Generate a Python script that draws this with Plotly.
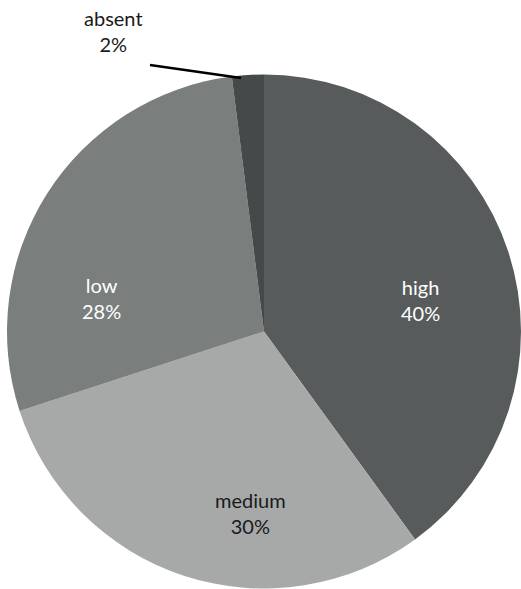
import plotly.graph_objects as go

# Share of each level (percent)
levels = ["high", "medium", "low", "absent"]
shares = [40, 30, 28, 2]
slice_colors = ["#575b5c", "#a7a9a9", "#7a7e7d", "#454949"]
label_colors = ["white", "#1a1a1a", "white", "#1a1a1a"]
# Label anchor points (pixels from top-left of the figure)
label_px = [(420, 300), (250, 513), (101, 298), (113, 31)]

W, H = 521, 589
FONT = "Lato"
FONT_SIZE = 20

fig = go.Figure(
    go.Pie(
        labels=levels,
        values=shares,
        sort=False,
        direction="clockwise",
        rotation=0,
        marker=dict(colors=slice_colors, line=dict(width=0)),
        textinfo="none",
        hoverinfo="label+percent",
        showlegend=False,
        domain=dict(x=[7 / W, 1], y=[0, 1 - 74 / H]),
    )
)

# Slice labels: name on the first line, share on the second
for name, share, color, (px, py) in zip(levels, shares, label_colors, label_px):
    fig.add_annotation(
        x=px / W, y=1 - py / H, xref="paper", yref="paper",
        xanchor="center", yanchor="middle",
        text=f"{name}<br>{share}%",
        showarrow=False, align="center",
        font=dict(family=FONT, size=FONT_SIZE, color=color),
    )

# Leader line from the "absent" label to its slice
fig.add_shape(
    type="line", xref="paper", yref="paper",
    x0=150 / W, y0=1 - 65 / H, x1=241 / W, y1=1 - 78 / H,
    line=dict(color="black", width=2.5),
)

fig.update_layout(
    width=W, height=H,
    margin=dict(l=0, r=0, t=0, b=0),
    paper_bgcolor="white",
    plot_bgcolor="white",
    font=dict(family=FONT),
)

fig.write_html("out.html")
